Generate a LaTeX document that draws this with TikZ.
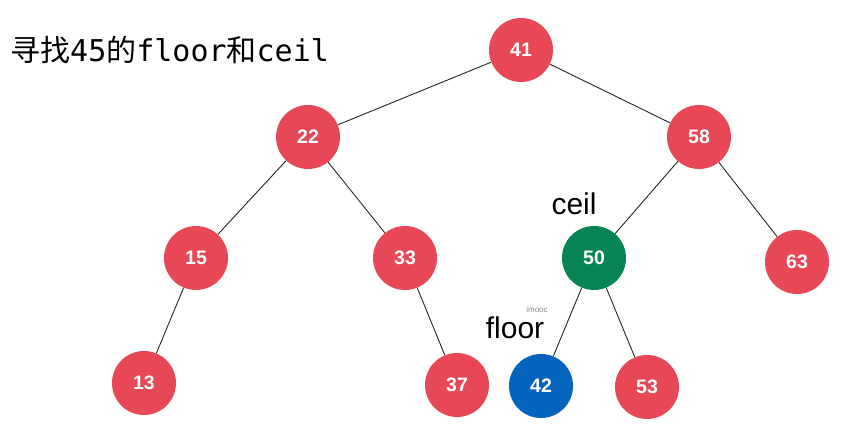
\documentclass[tikz,border=0pt]{standalone}
\usepackage{fontspec}
\setmainfont{Liberation Sans}
\newfontfamily\cjkfont{Noto Sans CJK SC}
\newfontfamily\monofont{DejaVu Sans Mono}
\definecolor{nodered}{RGB}{232,71,86}
\definecolor{nodegreen}{RGB}{6,132,84}
\definecolor{nodeblue}{RGB}{4,99,188}
\tikzset{
  treenode/.style={circle, fill=nodered, draw=none, minimum size=64pt, inner sep=0pt,
    text=white, font=\fontsize{19.5}{19.5}\selectfont\bfseries},
  ceilnode/.style={treenode, fill=nodegreen},
  floornode/.style={treenode, fill=nodeblue},
  treeedge/.style={draw=black!85, line width=0.9pt},
  taglabel/.style={font=\fontsize{30}{30}\selectfont, text=black, inner sep=0pt},
}
\begin{document}
\begin{tikzpicture}[x=1pt, y=-1pt]
\useasboundingbox (0,0) rectangle (856,430);
\fill[white] (0,0) rectangle (856,430);

% title
\node[anchor=west, inner sep=0pt] (title) at (10,50)
  {\fontsize{30}{30}\selectfont\cjkfont 寻找\monofont 45\cjkfont 的\monofont floor\cjkfont 和\monofont ceil};

% tree nodes
\node[treenode]  (n41) at (521,50)  {41};
\node[treenode]  (n22) at (308,137) {22};
\node[treenode]  (n58) at (699,137) {58};
\node[treenode]  (n15) at (196,258) {15};
\node[treenode]  (n33) at (405,258) {33};
\node[ceilnode]  (n50) at (594,258) {50};
\node[treenode]  (n63) at (797,262) {63};
\node[treenode]  (n13) at (144,383) {13};
\node[treenode]  (n37) at (457,385) {37};
\node[floornode] (n42) at (541,386) {42};
\node[treenode]  (n53) at (647,387) {53};

% edges
\draw[treeedge] (n41) -- (n22);
\draw[treeedge] (n41) -- (n58);
\draw[treeedge] (n22) -- (n15);
\draw[treeedge] (n22) -- (n33);
\draw[treeedge] (n58) -- (n50);
\draw[treeedge] (n58) -- (n63);
\draw[treeedge] (n15) -- (n13);
\draw[treeedge] (n33) -- (n37);
\draw[treeedge] (n50) -- (n42);
\draw[treeedge] (n50) -- (n53);

% tags
\node[taglabel] (ceiltag) at (574,204) {ceil};
\node[taglabel] (floortag) at (515,328) {floor};
\node[font=\fontsize{8}{8}\selectfont, text=black!45, inner sep=0pt] (mark) at (537,310) {imooc};
\end{tikzpicture}
\end{document}
